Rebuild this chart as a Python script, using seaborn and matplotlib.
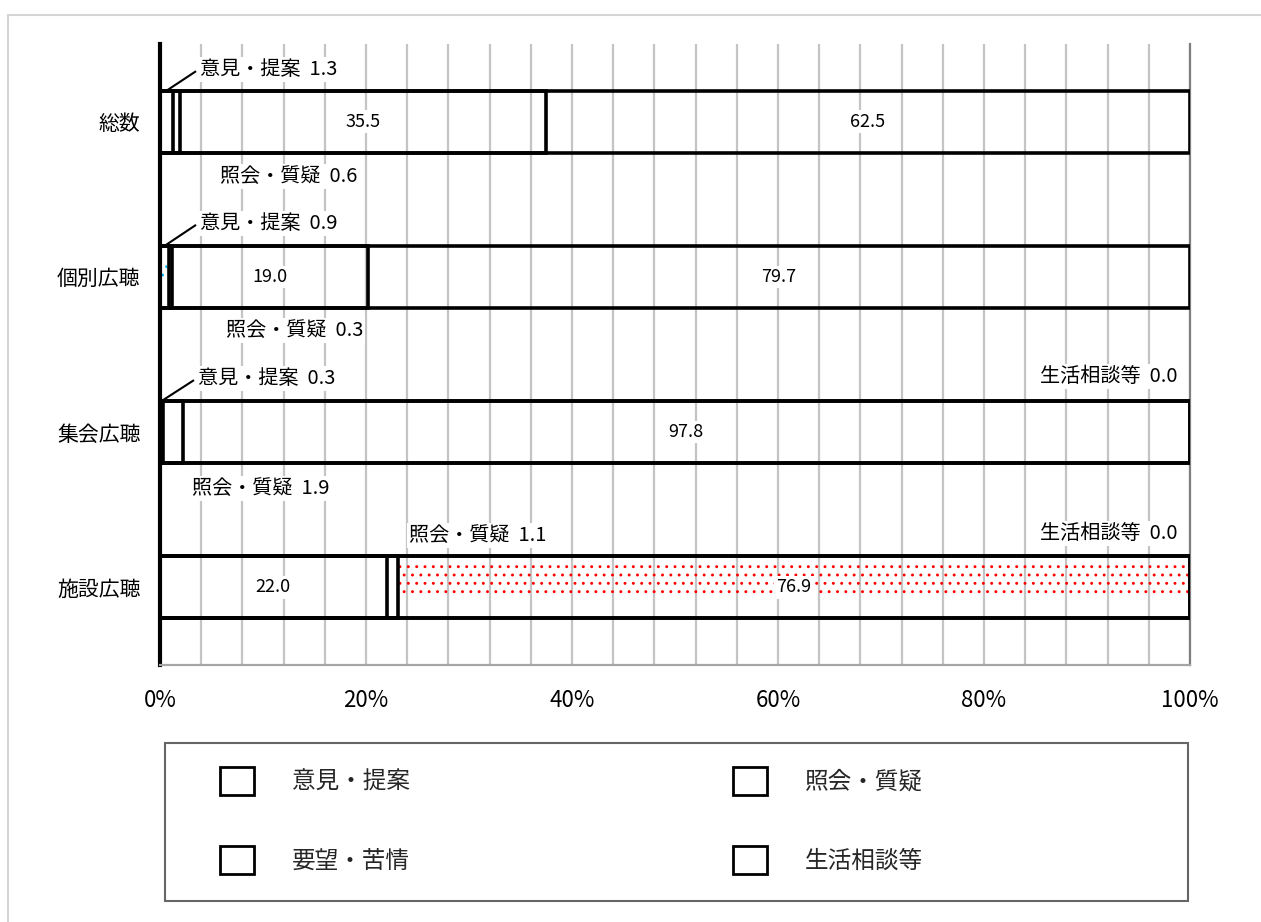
import numpy as np
import pandas as pd
import matplotlib
matplotlib.use("Agg")
import matplotlib.pyplot as plt
import seaborn as sns
from matplotlib.patches import Patch, Rectangle
from matplotlib.lines import Line2D

# ---------------- data ----------------
categories = ["総数", "個別広聴", "集会広聴", "施設広聴"]
series_names = ["意見・提案", "照会・質疑", "要望・苦情", "生活相談等"]
iken = [1.3, 0.9, 0.3, 22.0]        # 意見・提案
shokai = [0.6, 0.3, 1.9, 1.1]       # 照会・質疑
youbou = [35.5, 19.0, 97.8, 76.9]   # 要望・苦情
seikatsu = [62.5, 79.7, 0.0, 0.0]   # 生活相談等
x_ticks = [0, 20, 40, 60, 80, 100]
x_tick_labels = ["0%", "20%", "40%", "60%", "80%", "100%"]

vals = np.array([iken, shokai, youbou, seikatsu], dtype=float)
pct = vals / vals.sum(axis=0) * 100.0
cum = np.cumsum(pct, axis=0)
start = cum - pct

# ---------------- style ----------------
sns.set_theme(style="white")
plt.rcParams["font.family"] = ["Noto Sans CJK JP", "DejaVu Sans"]
plt.rcParams["hatch.linewidth"] = 0.9

W, H = 1261, 922
fig = plt.figure(figsize=(W / 100, H / 100), dpi=100)
ax = fig.add_axes([160 / W, 1 - 665 / H, 1030 / W, (665 - 44) / H])

# stacked bars drawn as overlaid cumulative outlines
for i in reversed(range(len(series_names))):
    df = pd.DataFrame({"category": categories, "cum": cum[i]})
    sns.barplot(data=df, x="cum", y="category", order=categories, orient="h",
                width=0.4, color="white", edgecolor="black", linewidth=2.6,
                errorbar=None, ax=ax, zorder=3)
for p in ax.patches:
    p.set_facecolor("none")

# patterned fills
ax.barh(y=2.955, width=pct[2, 3], left=start[2, 3], height=0.21,
        color="none", edgecolor="red", hatch="..", linewidth=0, zorder=2.5)
ax.barh(y=0.96, width=pct[0, 1] * 0.6, left=start[0, 1] + pct[0, 1] * 0.2, height=0.1,
        color="none", edgecolor="#00b0f0", hatch="..", linewidth=0, zorder=2.5)

# axes
ax.set_xlim(0, 100)
ax.set_ylim(3.5, -0.5)
ax.set_xlabel("")
ax.set_ylabel("")
ax.set_xticks(x_ticks)
ax.set_xticklabels(x_tick_labels, fontsize=16)
ax.set_xticks(np.arange(0, 101, 4), minor=True)
ax.set_yticks(range(len(categories)))
ax.set_yticklabels(categories, fontsize=15)
ax.set_yticks(np.arange(-0.5, len(categories), 1), minor=True)
ax.set_axisbelow(True)
ax.xaxis.grid(True, which="both", color="#c4c4c4", linewidth=1.6)
ax.yaxis.grid(False)
ax.tick_params(axis="x", which="both", length=0, pad=17, colors="black")
ax.tick_params(axis="y", which="major", length=0, pad=14, colors="black")
ax.tick_params(axis="y", which="minor", direction="in", length=6, width=2, color="black")
ax.tick_params(axis="x", which="minor", length=0)
for lab in ax.get_xticklabels() + ax.get_yticklabels():
    lab.set_color("black")

ax.spines["top"].set_visible(False)
ax.spines["left"].set_color("black")
ax.spines["left"].set_linewidth(3)
ax.spines["bottom"].set_color("#a6a6a6")
ax.spines["bottom"].set_linewidth(1.6)
ax.spines["right"].set_color("#7f7f7f")
ax.spines["right"].set_linewidth(1.6)

# ---------------- labels ----------------
box = dict(facecolor="white", edgecolor="none", pad=1.5)
inner_fs = 13
outer_fs = 14.5

# segment value labels inside the bars
inner = [(2, 0), (3, 0), (2, 1), (3, 1), (2, 2), (0, 3), (2, 3)]
for s, c in inner:
    ax.text(start[s, c] + pct[s, c] / 2, c, f"{vals[s, c]:.1f}", ha="center", va="center",
            fontsize=inner_fs, color="black", bbox=box, zorder=5)

# small segment labels outside bars: (series, category, x, y, ha, leader)
outer = [
    (0, 0, 3.9, -0.335, "left", True),
    (1, 0, 5.8, 0.352, "left", False),
    (0, 1, 3.9, 0.655, "left", True),
    (1, 1, 6.4, 1.345, "left", False),
    (0, 2, 3.7, 1.655, "left", True),
    (3, 2, 98.8, 1.64, "right", False),
    (1, 2, 3.1, 2.365, "left", False),
    (1, 3, 24.2, 2.665, "left", False),
    (3, 3, 98.8, 2.655, "right", False),
]
for s, c, x, y, ha, leader in outer:
    ax.text(x, y, f"{series_names[s]}  {vals[s, c]:.1f}", ha=ha, va="center",
            fontsize=outer_fs, color="black", bbox=box, zorder=5)
    if leader:
        ax.plot([start[s, c] + pct[s, c] / 2, x - 0.4], [c - 0.2, y + 0.01],
                color="black", linewidth=1.5, zorder=4, solid_capstyle="butt")

# ---------------- legend ----------------
handles = [Patch(facecolor="white", edgecolor="black", linewidth=2, label=n) for n in series_names]
order = [0, 2, 1, 3]
leg_fs = 17
em = leg_fs * 100 / 72
text_w = 5 * em
colspace = 733 - (220 + 34 + 38 + text_w)
fig.legend([handles[i] for i in order], [series_names[i] for i in order], ncol=2,
           loc="upper left", bbox_to_anchor=(220 / W, 1 - 767 / H), frameon=False,
           fontsize=leg_fs, handlelength=34 / em, handleheight=34 / em,
           handletextpad=38 / em, columnspacing=colspace / em, labelspacing=2.15,
           borderpad=0, borderaxespad=0)
fig.patches.append(Rectangle((165 / W, 1 - 901 / H), (1188 - 165) / W, (901 - 743) / H,
                             transform=fig.transFigure, fill=False, edgecolor="#666666",
                             linewidth=1.5))

# outer frame of the chart area
fig.lines.append(Line2D([8 / W, 8 / W], [0, 1 - 15 / H], transform=fig.transFigure,
                        color="#d4d4d4", linewidth=1.5))
fig.lines.append(Line2D([8 / W, 1], [1 - 15 / H, 1 - 15 / H], transform=fig.transFigure,
                        color="#d4d4d4", linewidth=1.5))

fig.savefig("out.png", dpi=100, facecolor="white")
